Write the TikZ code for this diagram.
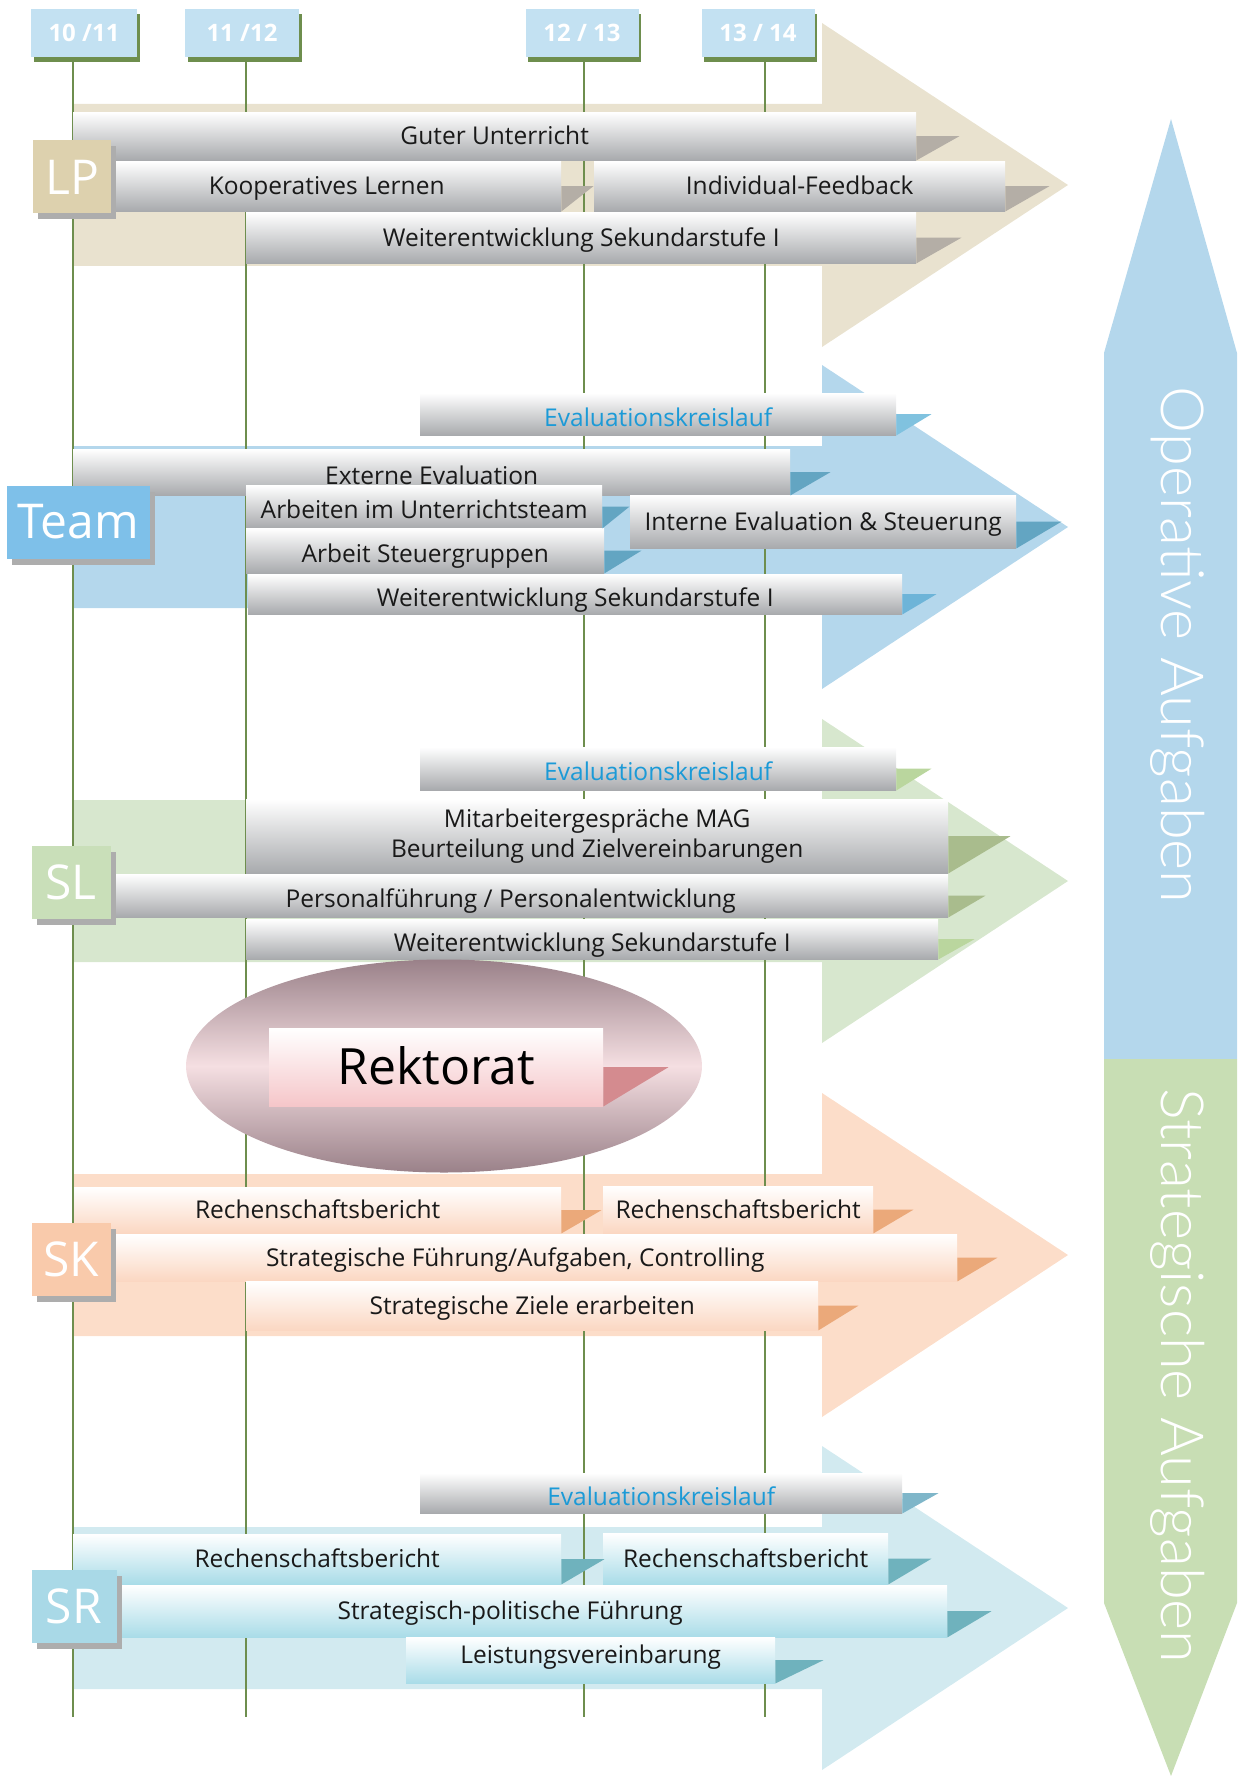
\documentclass[tikz,border=0pt]{standalone}
\usepackage{fontspec}
\setmainfont{Open Sans}
\IfFontExistsTF{Lato Light}{\newfontfamily\thinfont{Lato Light}}{\newfontfamily\thinfont{Lato}}
\usetikzlibrary{calc,shapes.geometric,shadows}

\definecolor{lineGreen}{HTML}{6E8E4E}
\definecolor{yearBlue}{HTML}{C3E1F2}
\definecolor{shadowGray}{HTML}{ADADAD}
\definecolor{barGray}{HTML}{A8AAAD}
\definecolor{evalBlue}{HTML}{1B9AD7}
% LP
\definecolor{lpArrow}{HTML}{E9E2CF}
\definecolor{lpBox}{HTML}{DDD1AE}
\definecolor{lpFold}{HTML}{B4AEA6}
% Team
\definecolor{teamArrow}{HTML}{B4D7EC}
\definecolor{teamBox}{HTML}{7EC0E9}
\definecolor{teamFold}{HTML}{63A5C2}
\definecolor{teamFoldB}{HTML}{6DB4D8}
\definecolor{teamFoldC}{HTML}{80C2DF}
% SL
\definecolor{slArrow}{HTML}{D7E7CE}
\definecolor{slBox}{HTML}{C9DFB9}
\definecolor{slFold}{HTML}{A9BC8D}
\definecolor{slFoldB}{HTML}{BAD69E}
% Rektorat
\definecolor{rkDark}{HTML}{9A8189}
\definecolor{rkLight}{HTML}{F5DFE2}
\definecolor{rkPink}{HTML}{F5C6C9}
\definecolor{rkFold}{HTML}{D48B8F}
% SK
\definecolor{skArrow}{HTML}{FCDDC9}
\definecolor{skBox}{HTML}{F9CAAB}
\definecolor{skBar}{HTML}{FBD7C2}
\definecolor{skFold}{HTML}{EBA97A}
% SR
\definecolor{srArrow}{HTML}{D2EAF0}
\definecolor{srBox}{HTML}{A9D9E7}
\definecolor{srBar}{HTML}{A9DCE8}
\definecolor{srFold}{HTML}{6FB2BD}
\definecolor{srFoldB}{HTML}{7FB6C9}
% right arrow
\definecolor{opBlue}{HTML}{B4D7EC}
\definecolor{stGreen}{HTML}{C8DEB4}

\tikzset{
  timeline/.style={draw=lineGreen, line width=1.3pt},
  yearbox/.style={fill=yearBlue, text=white, inner sep=0pt, minimum height=48pt,
    font=\bfseries\fontsize{24}{28}\selectfont,
    general shadow={fill=lineGreen, shadow xshift=2.5pt, shadow yshift=-5pt}},
  groupbox/.style={fill=#1, text=white, inner sep=0pt, minimum height=73pt,
    font=\fontsize{48}{52}\selectfont,
    general shadow={fill=shadowGray, shadow xshift=5pt, shadow yshift=-6pt}},
  taskbar/.style={anchor=north west, inner sep=0pt, align=center, text=black!90,
    text height=17.5pt, text depth=0pt,
    font=\fontsize{24.5}{30}\selectfont, top color=white, bottom color=#1},
  taskbar/.default=barGray,
  lowtext/.style={text height=24.5pt},
  hightext/.style={text height=6.5pt},
  evaltext/.style={text=evalBlue, lowtext},
}

\begin{document}
\begin{tikzpicture}[x=1pt, y=-1pt]
\useasboundingbox (0,0) rectangle (1247,1776);

% big arrows behind the rows
\foreach \cy/\col in {185/lpArrow, 527/teamArrow, 881/slArrow, 1255/skArrow, 1608/srArrow}
  \fill[\col] (73,{\cy-81}) -- (822,{\cy-81}) -- (822,{\cy-162}) -- (1068,\cy)
    -- (822,{\cy+162}) -- (822,{\cy+81}) -- (73,{\cy+81}) -- cycle;

% school years
\node[yearbox, minimum width=106pt] (ya) at (84,33) {10 /11};
\node[yearbox, minimum width=114pt] (yb) at (242,33) {11 /12};
\node[yearbox, minimum width=113pt] (yc) at (582,33) {12 / 13};
\node[yearbox, minimum width=113pt] (yd) at (758,33) {13 / 14};
\foreach \n/\x in {a/73, b/246, c/584, d/765}
  \coordinate (end\n) at (\x,1717);
\foreach \n in {a,b,c,d}
  \draw[timeline] (y\n.south -| end\n) -- (end\n);

% LP
\node[taskbar, minimum width=843pt, minimum height=48pt] (gu) at (73,112) {Guter Unterricht};
\node[taskbar, minimum width=469pt, minimum height=50pt] (kl) at (92,161) {Kooperatives Lernen};
\node[taskbar, minimum width=411pt, minimum height=50pt] (ifb) at (594,161) {Individual-Feedback};
\node[taskbar, minimum width=670pt, minimum height=51pt] (ws1) at (246,212) {Weiterentwicklung Sekundarstufe I};

% Team
\node[taskbar, evaltext, minimum width=476pt, minimum height=42pt] (ev1) at (420,393) {Evaluationskreislauf};
\node[taskbar, lowtext, minimum width=717pt, minimum height=46pt] (ee) at (73,449) {Externe Evaluation};
\node[taskbar, lowtext, minimum width=356pt, minimum height=43pt] (au) at (246,485) {Arbeiten im Unterrichtsteam};
\node[taskbar, minimum width=386pt, minimum height=53pt] (ie) at (630,495) {Interne Evaluation \& Steuerung};
\node[taskbar, lowtext, minimum width=358pt, minimum height=45pt] (sg) at (246,528) {Arbeit Steuergruppen};
\node[taskbar, lowtext, minimum width=654pt, minimum height=40pt] (ws2) at (248,574) {Weiterentwicklung Sekundarstufe I};

% SL
\node[taskbar, evaltext, minimum width=476pt, minimum height=43pt] (ev2) at (420,747) {Evaluationskreislauf};
\node[taskbar, text height={}, text depth={}, minimum width=702pt, minimum height=74pt] (mag) at (246,799) {Mitarbeitergespräche MAG\\Beurteilung und Zielvereinbarungen};
\node[taskbar, lowtext, minimum width=875pt, minimum height=43pt] (pf) at (73,874) {Personalführung / Personalentwicklung};
\node[taskbar, lowtext, minimum width=692pt, minimum height=40pt] (ws3) at (246,919) {Weiterentwicklung Sekundarstufe I};

% Rektorat
\node[ellipse, minimum width=516pt, minimum height=213pt, top color=rkDark, bottom color=rkDark, middle color=rkLight] (rkell) at (444,1066) {};
\node[taskbar=rkPink, minimum width=334pt, minimum height=78pt, text=black, text height=34pt, font=\fontsize{50}{54}\selectfont] (rk) at (269,1028) {Rektorat};

% SK
\node[taskbar=skBar, minimum width=487pt, minimum height=46pt] (rb1) at (74,1187) {Rechenschaftsbericht};
\node[taskbar=skBar, minimum width=270pt, minimum height=47pt] (rb2) at (603,1186) {Rechenschaftsbericht};
\node[taskbar=skBar, minimum width=884pt, minimum height=47pt] (sf) at (73,1234) {Strategische Führung/Aufgaben, Controlling};
\node[taskbar=skBar, minimum width=572pt, minimum height=49pt] (sz) at (246,1281) {Strategische Ziele erarbeiten};

% SR
\node[taskbar, evaltext, minimum width=482pt, minimum height=40pt] (ev3) at (420,1473) {Evaluationskreislauf};
\node[taskbar=srBar, minimum width=488pt, minimum height=50pt] (rb3) at (73,1534) {Rechenschaftsbericht};
\node[taskbar=srBar, minimum width=285pt, minimum height=51pt] (rb4) at (603,1533) {Rechenschaftsbericht};
\node[taskbar=srBar, minimum width=874pt, minimum height=52pt] (sp) at (73,1585) {Strategisch-politische Führung};
\node[taskbar=srBar, hightext, minimum width=369pt, minimum height=46pt] (lv) at (406,1637) {Leistungsvereinbarung};

% folds at the right end of the bars
\foreach \n/\w/\c in {gu/43/lpFold, kl/32/lpFold, ifb/44/lpFold, ws1/45/lpFold,
    ev1/35/teamFoldC, ee/40/teamFold, au/27/teamFold, ie/45/teamFold, sg/37/teamFold, ws2/34/teamFoldB,
    ev2/35/slFoldB, mag/62/slFold, pf/37/slFold, ws3/36/slFoldB,
    rk/65/rkFold,
    rb1/40/skFold, rb2/40/skFold, sf/40/skFold, sz/40/skFold,
    ev3/36/srFoldB, rb3/43/srFold, rb4/43/srFold, sp/44/srFold, lv/48/srFold}
  \fill[\c] (\n.east) -- ++(\w,0) -- (\n.south east) -- cycle;

% groups
\node[groupbox=lpBox, minimum width=78pt] (lp) at (72,177) {LP};
\node[groupbox=teamBox, minimum width=143pt] (team) at (78,522) {Team};
\node[groupbox=slBox, minimum width=79pt] (sl) at (71,882) {SL};
\node[groupbox=skBox, minimum width=79pt] (sk) at (71,1259) {SK};
\node[groupbox=srBox, minimum width=85pt] (sr) at (74,1606) {SR};

% operative / strategic
\fill[opBlue] (1104,1059) -- (1104,353) -- (1171,119) -- (1237,353) -- (1237,1059) -- cycle;
\fill[stGreen] (1104,1059) -- (1237,1059) -- (1237,1603) -- (1171,1776) -- (1104,1603) -- cycle;
\node[rotate=-90, text=white, font=\thinfont\fontsize{59.5}{64}\selectfont] (op) at (1178,645) {Operative Aufgaben};
\node[rotate=-90, text=white, font=\thinfont\fontsize{59.5}{64}\selectfont] (st) at (1178,1376) {Strategische Aufgaben};

\end{tikzpicture}
\end{document}
